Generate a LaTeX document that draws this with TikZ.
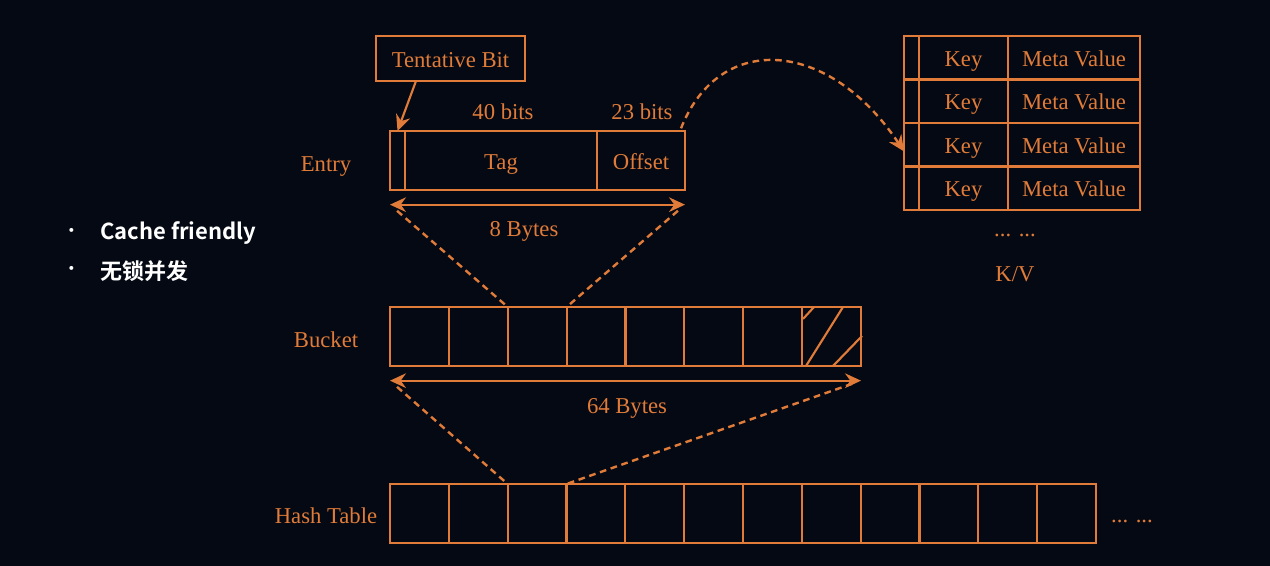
\documentclass[tikz,border=0pt]{standalone}
\usepackage{fontspec}
\setmainfont{Liberation Serif}
\newfontfamily\cjk[BoldFont={Noto Sans CJK SC Bold}]{Noto Sans CJK SC}
\usetikzlibrary{arrows.meta}
\definecolor{bgnavy}{HTML}{040913}
\definecolor{rust}{HTML}{E07B39}
\tikzstyle{cellbox}=[draw=rust,line width=1.6pt,minimum height=44.25pt,inner sep=0pt,outer sep=0pt,text=rust,font=\fontsize{17}{20}\selectfont,text height=13pt,text depth=0pt]
\tikzstyle{kvbox}=[cellbox,minimum height=32.6pt]
\tikzstyle{lbl}=[text=rust,font=\fontsize{17}{20}\selectfont,inner sep=0pt,text height=13pt,text depth=0pt]
\tikzstyle{dashlink}=[draw=rust,line width=1.8pt,dash pattern=on 5pt off 3.5pt]
\tikzstyle{sizearrow}=[draw=rust,line width=1.6pt,{Stealth[length=12pt,width=11pt,inset=4pt]}-{Stealth[length=12pt,width=11pt,inset=4pt]}]
\tikzstyle{bul}=[text=white,font=\cjk\bfseries\fontsize{16.5}{20}\selectfont,inner sep=0pt]

\begin{document}
\begin{tikzpicture}[x=0.75pt,y=-0.75pt]
    \fill[bgnavy] (0,0) rectangle (1270,566);
    \useasboundingbox (0,0) rectangle (1270,566);

    % bullets
    \node[bul,font=\cjk\fontsize{14}{14}\selectfont] (dot1) at (72,233) {•};
    \node[bul,anchor=west] (cache) at (100,233) {Cache friendly};
    \node[bul,font=\cjk\fontsize{14}{14}\selectfont] (dot2) at (72,271) {•};
    \node[bul,anchor=west] (lockfree) at (100,271) {无锁并发};

    % entry
    \node[cellbox,minimum width=111.75pt,minimum height=33.75pt] (tent) at (450.5,58.5) {Tentative Bit};
    \node[cellbox,minimum width=11.25pt] (tb) at (397.5,160.5) {};
    \node[cellbox,minimum width=144pt] (tag) at (501,160.5) {Tag};
    \node[cellbox,minimum width=66pt] (off) at (641,160.5) {Offset};
    \node[lbl] (bits40) at (503,111) {40 bits};
    \node[lbl] (bits23) at (642,111) {23 bits};
    \node[lbl] (entry) at (326,163) {Entry};
    \node[lbl] (bytes8) at (524,228) {8 Bytes};
    \draw[rust,line width=1.6pt,-{Stealth[length=12pt,width=11pt,inset=4pt]}] ([xshift=30pt]tent.south west) -- (tb.north);

    % bucket
    \foreach \i in {0,...,7}
        \node[cellbox,minimum width=44.16pt] (b\i) at ({419.44+58.875*\i},336.5) {};
    \draw[rust,line width=1.6pt] (814,307) -- (803,319) (843,307) -- (806,366) (862,336) -- (833,366);
    \node[lbl] (bucket) at (326,338.5) {Bucket};
    \node[lbl] (bytes64) at (627,405) {64 Bytes};

    % hash table
    \foreach \i in {0,...,11}
        \node[cellbox,minimum width=44.12pt] (h\i) at ({419.42+58.83*\i},513.5) {};
    \node[lbl] (hashtbl) at (326,515) {Hash Table};
    \node[lbl] (htdots) at (1132,514) {... ...};

    % key/value
    \foreach \r/\y in {0/57.75,1/101.25,2/144.75,3/188.25} {
        \node[kvbox,minimum width=11.25pt] (s\r) at (911.5,\y) {};
        \node[kvbox,minimum width=66.75pt] (k\r) at (963.5,\y) {Key};
        \node[kvbox,minimum width=99pt] (m\r) at (1074,\y) {Meta Value};
    }
    \node[lbl] (kvdots) at (1015,228) {... ...};
    \node[lbl] (kv) at (1015,273) {K/V};

    % sizes and links
    \coordinate (eL) at ([yshift=-11pt]tb.south west);
    \coordinate (eR) at ([yshift=-11pt]off.south east);
    \coordinate (bL) at ([yshift=-11pt]b0.south west);
    \coordinate (bR) at ([yshift=-11pt]b7.south east);
    \draw[sizearrow] (eL) -- (eR);
    \draw[sizearrow] (bL) -- (bR);
    \draw[dashlink,shorten <=7pt] (eL) -- (b2.north west);
    \draw[dashlink,shorten <=7pt] (eR) -- (b3.north west);
    \draw[dashlink,shorten <=7pt] (bL) -- (h2.north west);
    \draw[dashlink,shorten <=7pt] (bR) -- (h3.north west);
    \draw[dashlink,-{Stealth[length=12pt,width=11pt,inset=4pt]}] ([xshift=-3pt,yshift=2pt]off.north east) .. controls (720,30) and (830,40) .. ([yshift=-5pt]s2.west);
\end{tikzpicture}
\end{document}
